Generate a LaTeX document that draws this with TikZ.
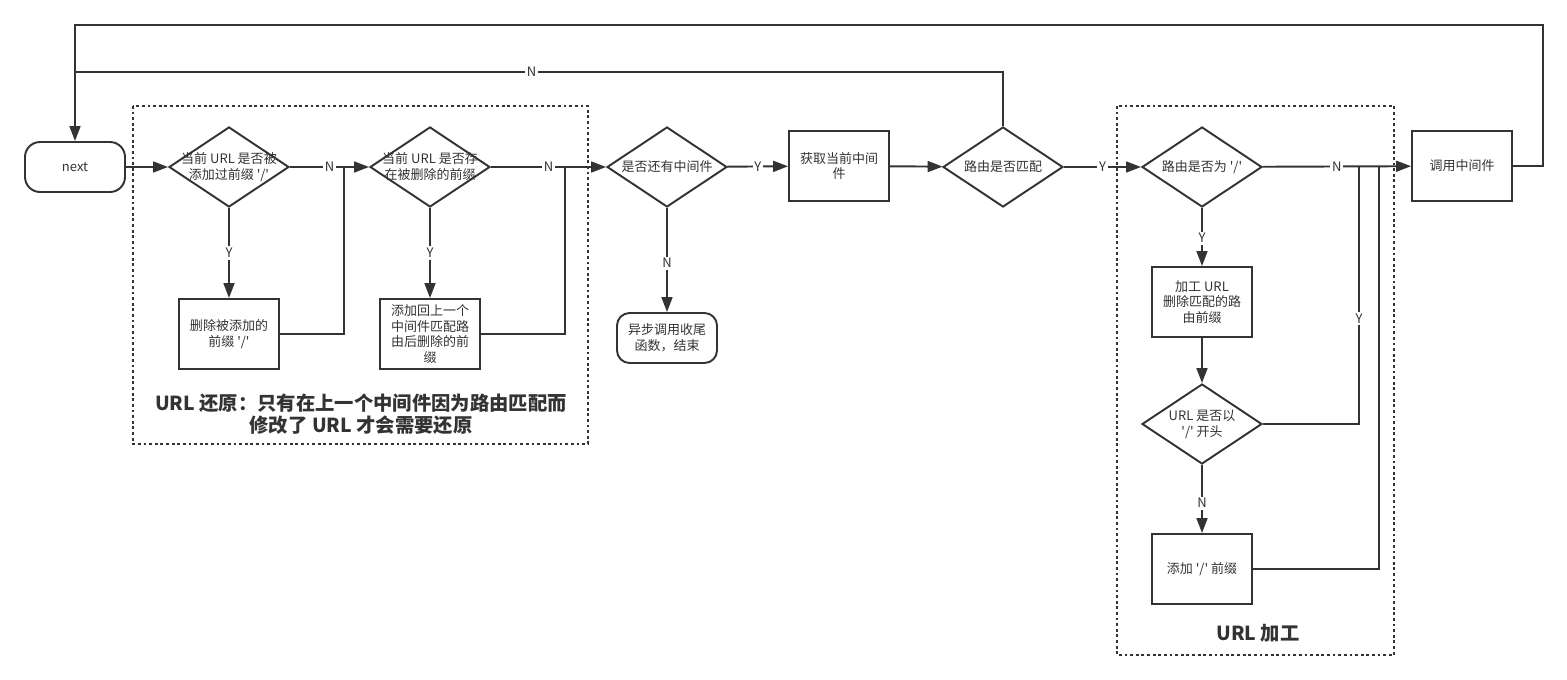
\documentclass[tikz,border=0pt]{standalone}
\usepackage{fontspec}
\setmainfont{Noto Sans CJK SC}[Ligatures=TeXOff]
\usepackage{tikz}
\usetikzlibrary{arrows.meta,shapes.geometric}
\definecolor{tinta}{HTML}{333333}
\newcommand{\rtxt}[1]{\makebox[0pt]{\smash{\raisebox{-0.35em}{\begin{tabular}{@{}c@{}}#1\end{tabular}}}}}

\begin{document}
\begin{tikzpicture}[x=0.02cm, y=-0.02cm, every node/.style={text=tinta},
  caja/.style={rectangle, draw=tinta, line width=1.1pt, align=center, minimum width=2cm,
               minimum height=1.4cm, inner sep=2pt, font=\fontsize{7.4}{8.9}\selectfont},
  rombo/.style={diamond, draw=tinta, line width=1.1pt, minimum width=2.4cm, minimum height=1.6cm,
                inner sep=0pt, font=\fontsize{7.4}{8.9}\selectfont},
  borde/.style={rectangle, rounded corners=0.3cm, draw=tinta, line width=1.1pt, align=center,
                minimum width=2cm, minimum height=1cm, font=\fontsize{7.4}{8.9}\selectfont},
  linea/.style={draw=tinta, line width=1.1pt},
  flecha/.style={linea, -{Triangle[length=8.5pt,width=6.2pt]}},
  yn/.style={fill=white, inner sep=1pt, font=\fontsize{7.4}{8.9}\selectfont},
  grupo/.style={draw=tinta, line width=1.1pt, dash pattern=on 1.6pt off 1.6pt},
  titulo/.style={align=center, font=\fontsize{11}{12.6}\selectfont\bfseries}]
\useasboundingbox (0,0) rectangle (1567,679);

% grupos
\draw[grupo] (133,106) rectangle (588,444);
\draw[grupo] (1117,106) rectangle (1394,655);
\node[titulo] (t1) at (361,414) {URL 还原：只有在上一个中间件因为路由匹配而\\修改了 URL 才会需要还原};
\node[titulo] (t2) at (1258,633) {URL 加工};

% nodos
\node[borde] (nx) at (75,167) {next};
\node[rombo] (c1) at (229,167) {\rtxt{当前 URL 是否被\\添加过前缀 '/'}};
\node[caja] (b1) at (229,334) {删除被添加的\\前缀 '/'};
\node[rombo] (c2) at (430,167) {\rtxt{当前 URL 是否存\\在被删除的前缀}};
\node[caja] (b2) at (430,334) {添加回上一个\\中间件匹配路\\由后删除的前\\缀};
\node[rombo] (c3) at (667,167) {\rtxt{是否还有中间件}};
\node[borde, rounded corners=0.25cm] (fin) at (667,338) {异步调用收尾\\函数，结束};
\node[caja] (b3) at (839,166) {获取当前中间\\件};
\node[rombo] (c4) at (1003,167) {\rtxt{路由是否匹配}};
\node[rombo] (c5) at (1202,167) {\rtxt{路由是否为 '/'}};
\node[caja] (b4) at (1202,302) {加工 URL\\删除匹配的路\\由前缀};
\node[rombo] (c6) at (1202,424) {\rtxt{URL 是否以\\'/' 开头}};
\node[caja] (b5) at (1202,569) {添加 '/' 前缀};
\node[caja] (b6) at (1462,166) {调用中间件};

\coordinate (j1) at (344,167);
\coordinate (j2) at (565,167);
\coordinate (j5) at (1359,167);
\coordinate (j6) at (1379,167);

% flechas
\draw[flecha] (nx) -- (c1);
\draw[flecha] (c1) -- node[yn]{N} (c2);
\draw[flecha] (c1) -- node[yn]{Y} (b1);
\draw[linea] (b1.east) -| (j1);
\draw[flecha] (c2) -- node[yn]{N} (c3);
\draw[flecha] (c2) -- node[yn]{Y} (b2);
\draw[linea] (b2.east) -| (j2);
\draw[flecha] (c3) -- node[yn]{Y} (b3);
\draw[flecha] (c3) -- node[yn, pos=0.53]{N} (fin);
\draw[flecha] (b3) -- (c4);
\draw[flecha] (c4) -- node[yn]{Y} (c5);
\draw[linea] (c4.north) |- node[yn, pos=0.754]{N} (nx.north |- 0,72);
\draw[flecha] (c5) -- node[yn]{N} (b6);
\draw[flecha] (c5) -- node[yn, pos=0.52]{Y} (b4);
\draw[flecha] (b4) -- (c6);
\draw[linea] (c6.east) -| node[yn, pos=0.705]{Y} (j5);
\draw[flecha] (c6) -- node[yn, pos=0.56]{N} (b5);
\draw[linea] (b5.east) -| (j6);
\draw[flecha] (b6.east) -| (1543,25) -| (nx.north);
\end{tikzpicture}
\end{document}
